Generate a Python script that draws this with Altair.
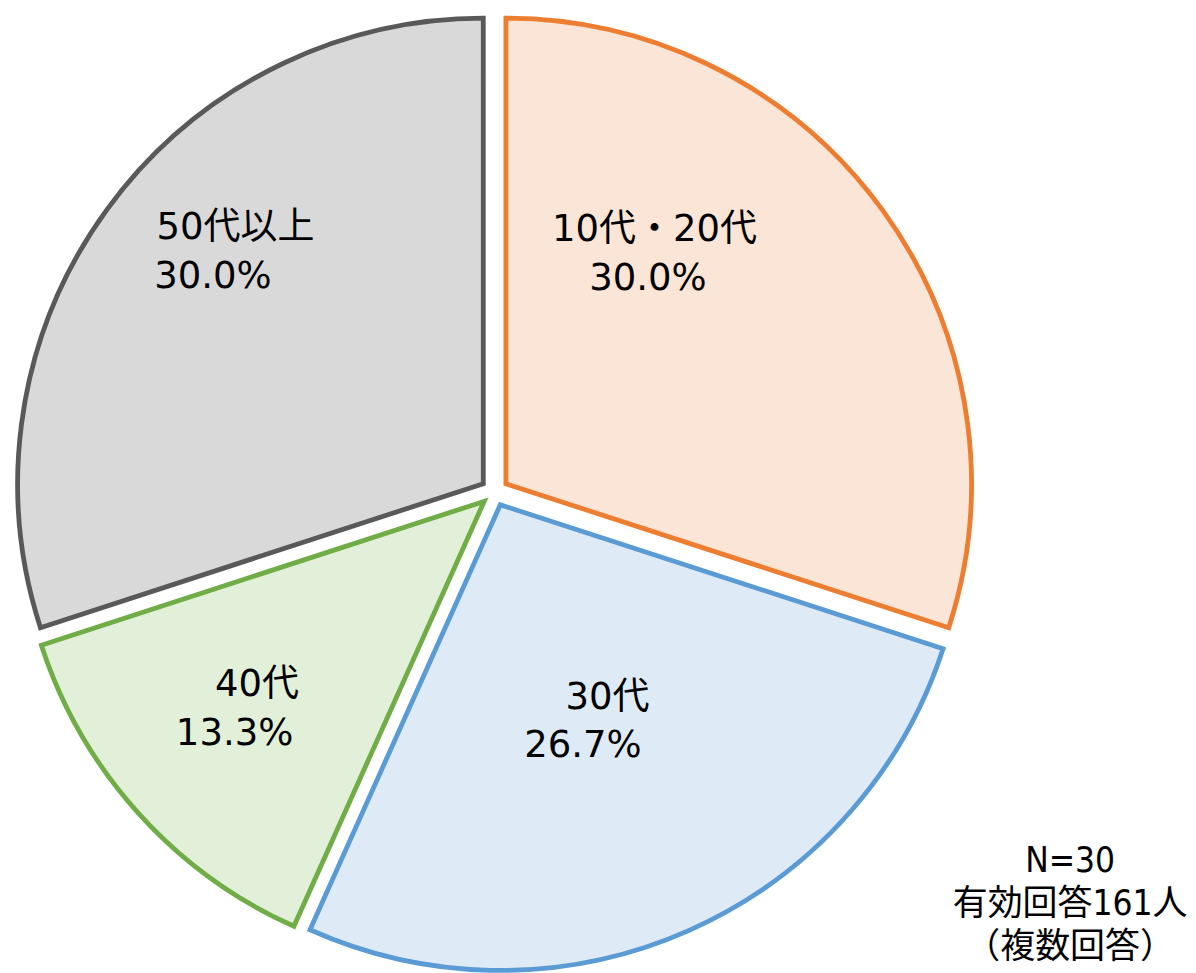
import altair as alt
import pandas as pd

# ---- data ----
categories = ["10代・20代", "30代", "40代", "50代以上"]
shares = [30.0, 26.7, 13.3, 30.0]
fill_colors = ["#FBE5D6", "#DEEBF7", "#E2F0D9", "#D9D9D9"]
stroke_colors = ["#ED7D31", "#5B9BD5", "#70AD47", "#595959"]
note_lines = ["N=30", "有効回答161人", "（複数回答）"]

# ---- label placement (style) ----
label_angle_deg = [37.2, 161.6, 225.8, 305.9]
label_radius = [254, 280, 363, 348]
name_dx = [6.5, 24.5, 22.5, 22.5]
NAME_DY = -49

CX, CY, R, EXPLODE = 486, 481, 466, 14
LABEL_FONT = "DejaVu Sans, Noto Sans CJK JP"
NOTE_FONT = "Liberation Sans Narrow, DejaVu Sans Condensed, Noto Sans CJK JP"

df = pd.DataFrame({
    "cat": categories,
    "share": shares,
    "order": list(range(len(categories))),
    "la": label_angle_deg,
    "lr": label_radius,
    "ndx": name_dx,
})
df["pct"] = [f"{v:.1f}%" for v in shares]

base = (
    alt.Chart(df)
    .transform_window(cum="sum(share)", sort=[alt.SortField("order")], frame=[None, 0])
    .transform_joinaggregate(total="sum(share)")
    .transform_calculate(
        t1="datum.cum / datum.total * 2 * PI",
        t0="(datum.cum - datum.share) / datum.total * 2 * PI",
    )
    .transform_calculate(mid="(datum.t0 + datum.t1) / 2")
    .transform_calculate(
        px=f"{CX} + {EXPLODE} * sin(datum.mid)",
        py=f"{CY} - {EXPLODE} * cos(datum.mid)",
        lx=f"{CX} + datum.lr * sin(datum.la * PI / 180)",
        ly=f"{CY} - datum.lr * cos(datum.la * PI / 180)",
    )
    .transform_calculate(nx=f"datum.lx + datum.ndx", ny=f"datum.ly + ({NAME_DY})")
)

pie = base.mark_arc(radius=R, strokeWidth=4.8, strokeJoin="miter").encode(
    x=alt.X("px:Q", scale=None, axis=None),
    y=alt.Y("py:Q", scale=None, axis=None),
    theta=alt.Theta("t0:Q", scale=None, stack=None),
    theta2="t1:Q",
    fill=alt.Fill("cat:N", scale=alt.Scale(domain=categories, range=fill_colors), legend=None),
    stroke=alt.Stroke("cat:N", scale=alt.Scale(domain=categories, range=stroke_colors), legend=None),
)

pct_text = base.mark_text(
    font=LABEL_FONT, fontSize=37, color="#000000", align="center", baseline="alphabetic"
).encode(
    x=alt.X("lx:Q", scale=None, axis=None),
    y=alt.Y("ly:Q", scale=None, axis=None),
    text="pct:N",
)

name_text = base.mark_text(
    font=LABEL_FONT, fontSize=37, color="#000000", align="center", baseline="alphabetic"
).encode(
    x=alt.X("nx:Q", scale=None, axis=None),
    y=alt.Y("ny:Q", scale=None, axis=None),
    text="cat:N",
)

note = alt.Chart(pd.DataFrame({"t": ["\n".join(note_lines)]})).mark_text(
    font=NOTE_FONT, fontSize=35, color="#000000", align="center", baseline="alphabetic",
    lineBreak="\n", lineHeight=43,
).encode(
    x=alt.value(1062),
    y=alt.value(861),
    text="t:N",
)

chart = (
    alt.layer(pie, pct_text, name_text, note)
    .properties(width=1180, height=957, padding=0, background="#FFFFFF")
    .configure_view(strokeWidth=0)
)

chart.save("out.html", embed_options={"renderer": "svg", "actions": False})
